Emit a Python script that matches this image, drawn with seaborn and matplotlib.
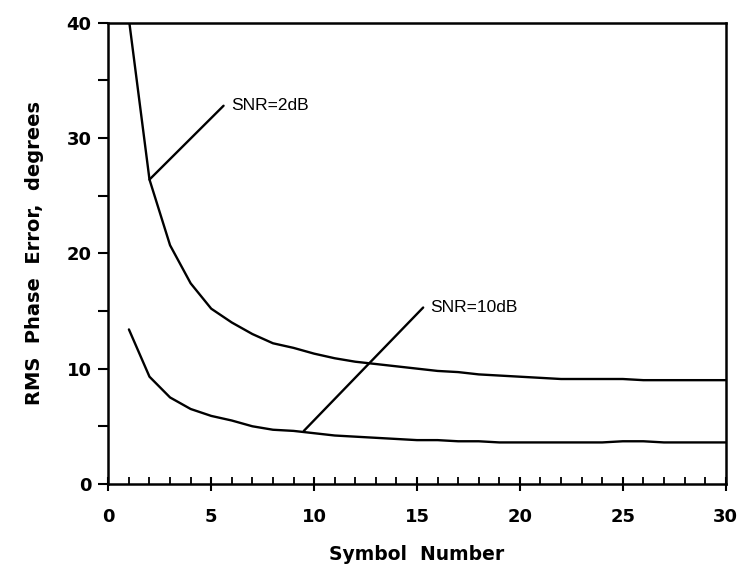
import numpy as np
import pandas as pd
import matplotlib
matplotlib.use("Agg")
import matplotlib.pyplot as plt
import seaborn as sns
from matplotlib.ticker import MultipleLocator

# values
symbol = list(range(1, 31))
snr_2db = [40.3, 26.4, 20.7, 17.4, 15.2, 14.0, 13.0, 12.2, 11.8, 11.3,
           10.9, 10.6, 10.4, 10.2, 10.0, 9.8, 9.7, 9.5, 9.4, 9.3,
           9.2, 9.1, 9.1, 9.1, 9.1, 9.0, 9.0, 9.0, 9.0, 9.0]
snr_10db = [13.4, 9.3, 7.5, 6.5, 5.9, 5.5, 5.0, 4.7, 4.6, 4.4,
            4.2, 4.1, 4.0, 3.9, 3.8, 3.8, 3.7, 3.7, 3.6, 3.6,
            3.6, 3.6, 3.6, 3.6, 3.7, 3.7, 3.6, 3.6, 3.6, 3.6]
labels = ["SNR=2dB", "SNR=10dB"]
label_anchor = [(2.0, 26.4), (9.5, 4.6)]
label_pos = [(5.6, 32.8), (15.3, 15.3)]

df = pd.DataFrame({
    "symbol": symbol * 2,
    "err": snr_2db + snr_10db,
    "snr": [labels[0]] * 30 + [labels[1]] * 30,
})

sns.set_style("ticks")
plt.rcParams["font.family"] = ["Liberation Sans", "DejaVu Sans"]
plt.rcParams["text.color"] = "black"
plt.rcParams["axes.labelcolor"] = "black"
plt.rcParams["xtick.color"] = "black"
plt.rcParams["ytick.color"] = "black"
plt.rcParams["axes.edgecolor"] = "black"

fig = plt.figure(figsize=(7.42, 5.68), dpi=100)
ax = fig.add_axes([0.146, 0.148, 0.832, 0.812])

sns.lineplot(data=df, x="symbol", y="err", units="snr", estimator=None,
             color="black", linewidth=1.7, ax=ax, legend=False)

for lab, (ax0, ay0), (tx, ty) in zip(labels, label_anchor, label_pos):
    ax.plot([ax0, tx], [ay0, ty], color="black", linewidth=1.7)
    ax.text(tx + 0.35, ty, lab, fontsize=12.5, va="center", ha="left")

ax.set_xlim(0, 30)
ax.set_ylim(0, 40)
ax.xaxis.set_major_locator(MultipleLocator(5))
ax.xaxis.set_minor_locator(MultipleLocator(1))
ax.yaxis.set_major_locator(MultipleLocator(10))
ax.yaxis.set_minor_locator(MultipleLocator(5))

ax.tick_params(axis="x", which="major", direction="inout", length=10, width=1.5,
               labelsize=13, pad=12)
ax.tick_params(axis="x", which="minor", direction="in", length=5, width=1.3)
ax.tick_params(axis="y", which="both", direction="out", length=7, width=1.5,
               labelsize=13, pad=5)
for t in ax.get_xticklabels() + ax.get_yticklabels():
    t.set_fontweight("bold")
    t.set_family(["DejaVu Sans"])

for s in ax.spines.values():
    s.set_visible(True)
    s.set_linewidth(1.8)

ax.set_xlabel("Symbol  Number", fontsize=13.5, fontweight="bold", labelpad=14,
              family=["DejaVu Sans"])
ax.set_ylabel("RMS  Phase  Error,  degrees", fontsize=14, fontweight="bold",
              labelpad=16, family=["DejaVu Sans"])

fig.savefig("out.png", dpi=100)
